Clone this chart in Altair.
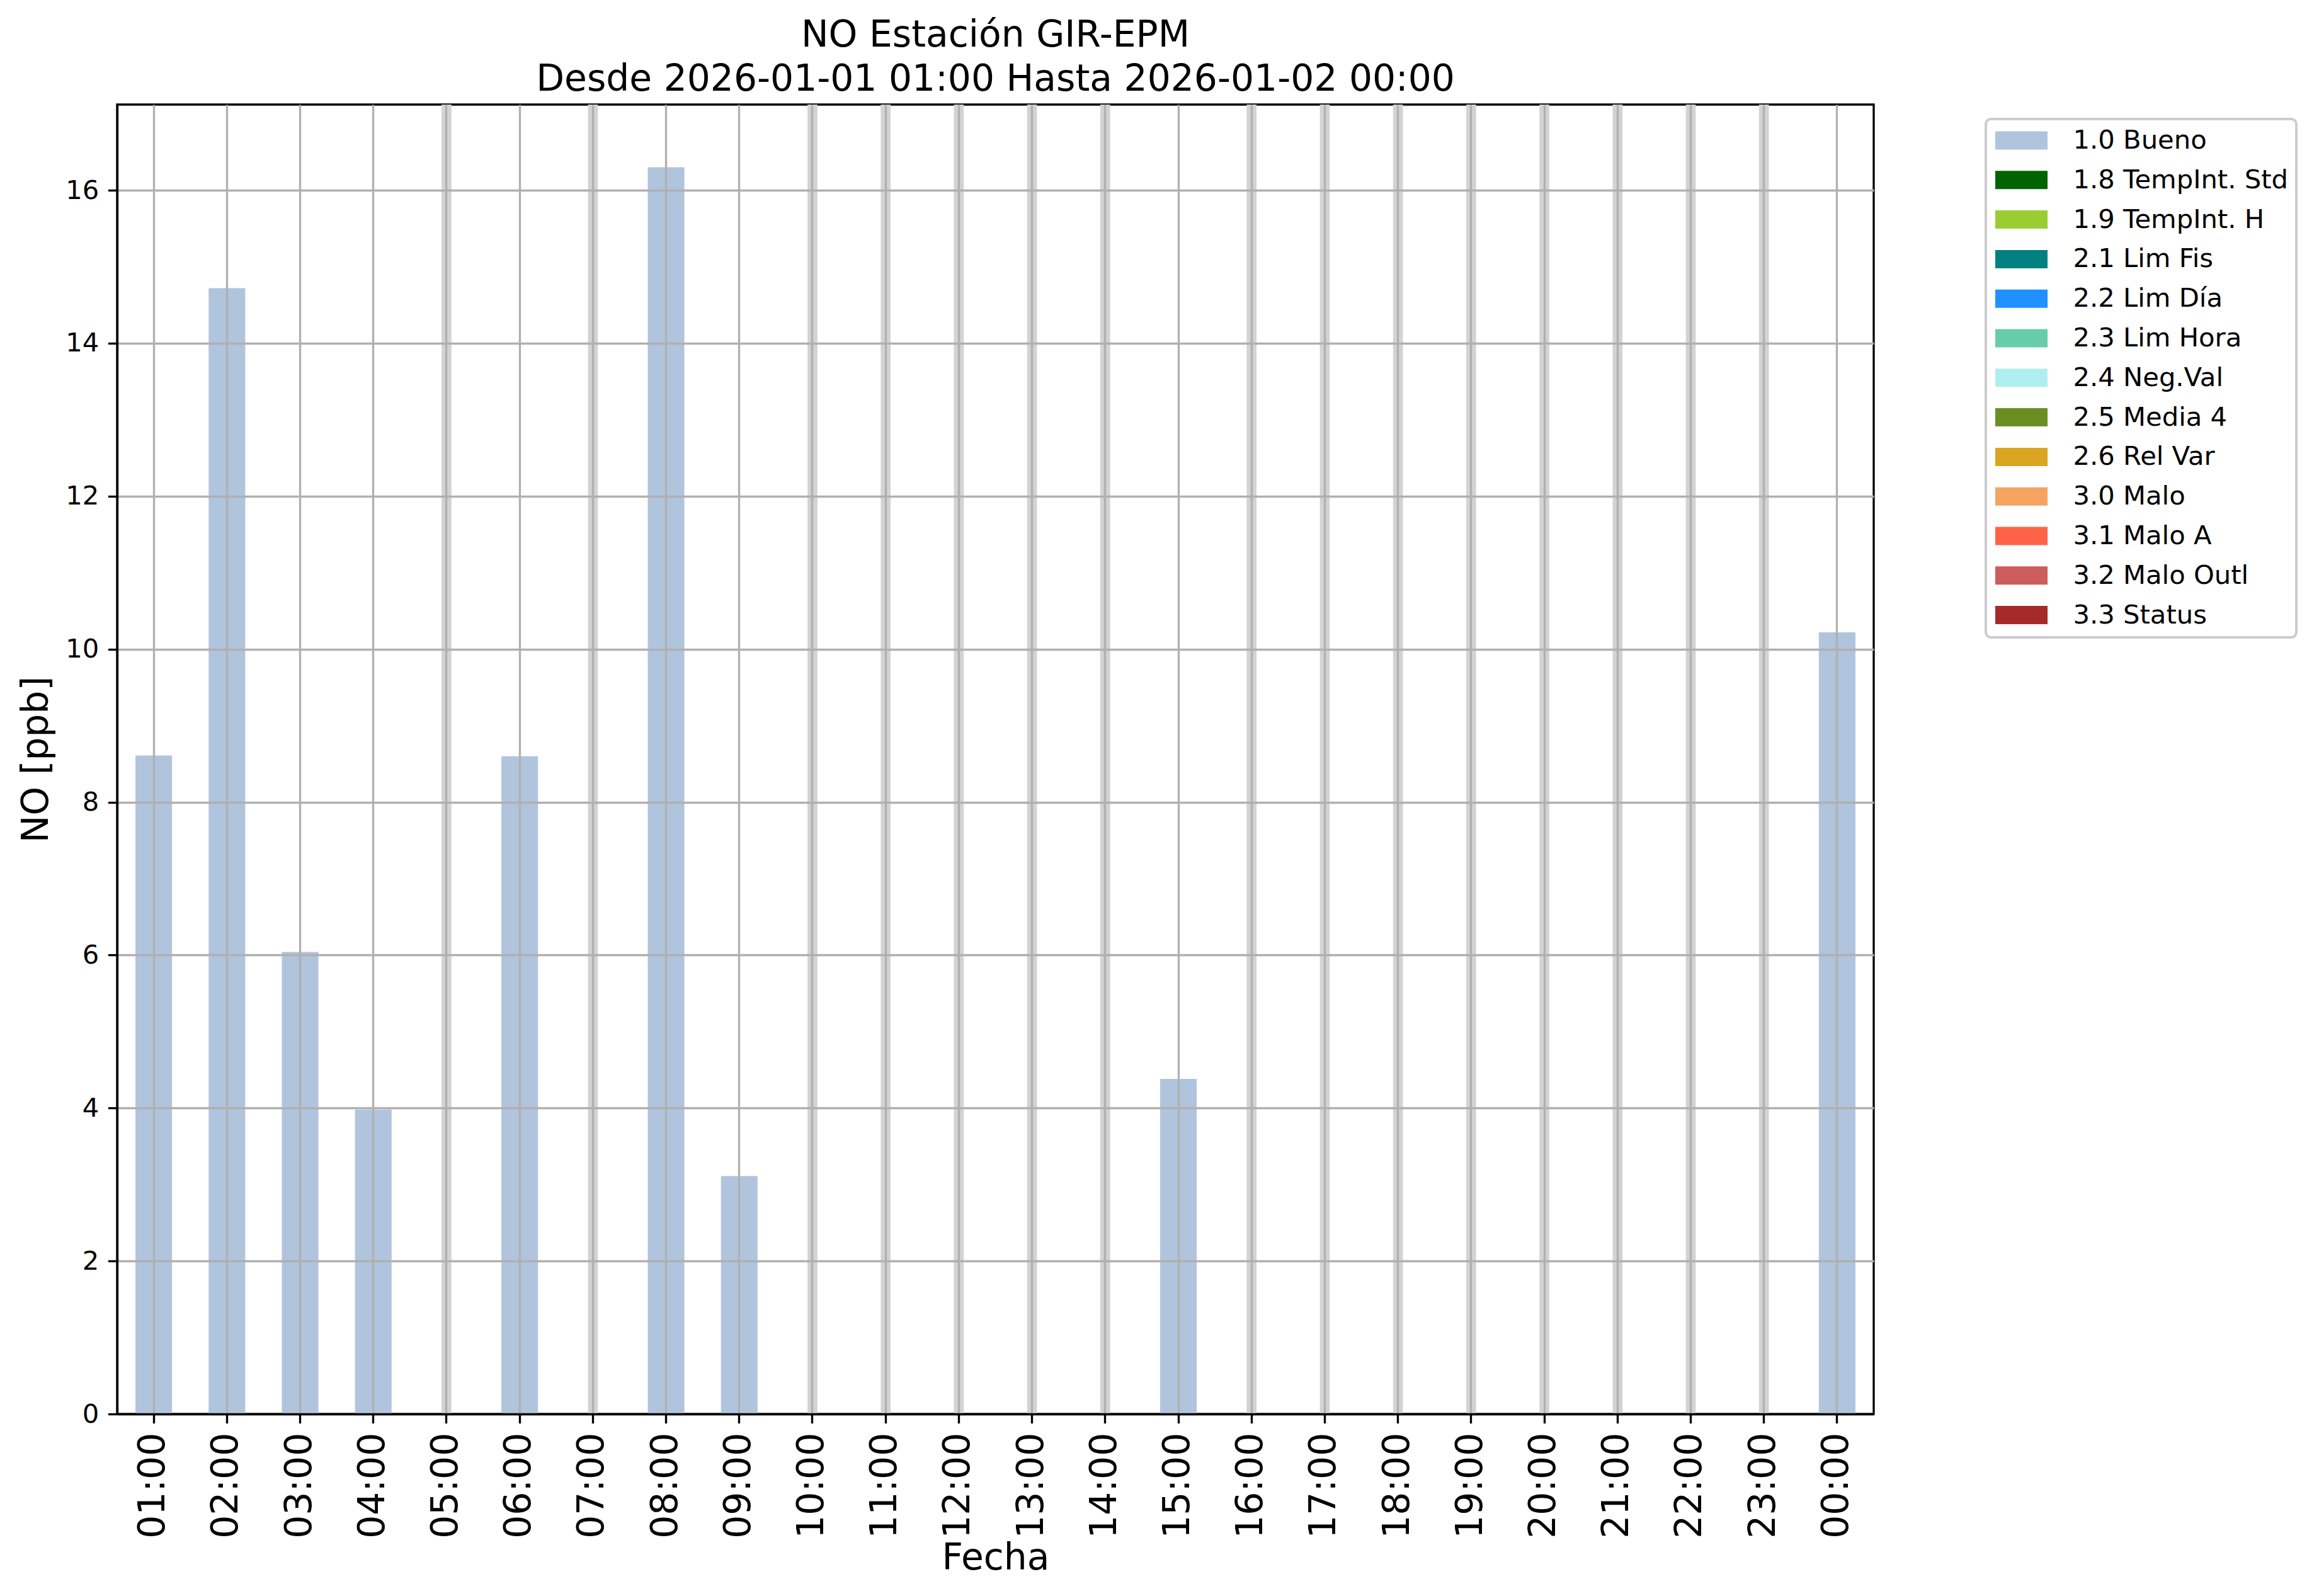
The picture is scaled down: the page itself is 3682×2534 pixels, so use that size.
import altair as alt
import pandas as pd

# ---- data ----
HOURS = ["01:00", "02:00", "03:00", "04:00", "05:00", "06:00", "07:00", "08:00",
         "09:00", "10:00", "11:00", "12:00", "13:00", "14:00", "15:00", "16:00",
         "17:00", "18:00", "19:00", "20:00", "21:00", "22:00", "23:00", "00:00"]
VALUES = [8.61, 14.72, 6.04, 3.98, None, 8.60, None, 16.30,
          3.11, None, None, None, None, None, 4.38, None,
          None, None, None, None, None, None, None, 10.22]
FLAGS = ["1.0 Bueno", "1.0 Bueno", "1.0 Bueno", "1.0 Bueno", None, "1.0 Bueno", None, "1.0 Bueno",
         "1.0 Bueno", None, None, None, None, None, "1.0 Bueno", None,
         None, None, None, None, None, None, None, "1.0 Bueno"]

LEGEND_LABELS = ["1.0 Bueno", "1.8 TempInt. Std", "1.9 TempInt. H", "2.1 Lim Fis",
                 "2.2 Lim Día", "2.3 Lim Hora", "2.4 Neg.Val", "2.5 Media 4",
                 "2.6 Rel Var", "3.0 Malo", "3.1 Malo A", "3.2 Malo Outl", "3.3 Status"]
LEGEND_COLORS = ["#b0c4de", "#006400", "#9acd32", "#008080",
                 "#1e90ff", "#66cdaa", "#afeeee", "#6b8e23",
                 "#daa520", "#f4a460", "#ff6347", "#cd5c5c", "#a52a2a"]

Y_TICKS = [0, 2, 4, 6, 8, 10, 12, 14, 16]
Y_MAX = 17.12
TITLE_LINES = ["NO Estación GIR-EPM", "Desde 2026-01-01 01:00 Hasta 2026-01-02 00:00"]
X_TITLE = "Fecha"
Y_TITLE = "NO [ppb]"

df = pd.DataFrame({"hour": HOURS, "value": VALUES, "flag": FLAGS})

FONT = "DejaVu Sans"
LW = 3.33
GRID = "#b0b0b0"

x_axis = alt.Axis(
    labelAngle=270, labelFontSize=58.3, labelFont=FONT, labelColor="black",
    labelPadding=14.6, tickSize=14.6, tickWidth=LW, tickColor="black",
    domainColor="black", domainWidth=LW, grid=True, gridColor=GRID,
    gridWidth=LW, bandPosition=0.5, title=X_TITLE, titleFontSize=58.3,
    titleFont=FONT, titleFontWeight="normal", titleColor="black",
    titlePadding=3, zindex=1,
)
y_axis = alt.Axis(
    values=Y_TICKS, format="d", labelFontSize=41.7, labelFont=FONT,
    labelColor="black", labelPadding=14.6, tickSize=14.6, tickWidth=LW,
    tickColor="black", domainColor="black", domainWidth=LW, grid=True,
    gridColor=GRID, gridWidth=LW, title=Y_TITLE, titleFontSize=58.3,
    titleFont=FONT, titleFontWeight="normal", titleColor="black",
    titlePadding=16.7, zindex=1,
)
x_scale = alt.Scale(paddingInner=0.5, paddingOuter=0.25)
y_scale = alt.Scale(domain=[0, Y_MAX], nice=False, zero=True)

missing = alt.Chart(df).transform_filter("!isValid(datum.value)").mark_bar(
    color="#d3d3d3", width=alt.RelativeBandSize(0.27)
).encode(
    x=alt.X("hour:N", sort=HOURS, scale=x_scale, axis=x_axis),
    y=alt.YDatum(Y_MAX, scale=y_scale),
    y2=alt.Y2Datum(0),
)

bars = alt.Chart(df).transform_filter("isValid(datum.value)").mark_bar().encode(
    x=alt.X("hour:N", sort=HOURS, scale=x_scale, axis=x_axis),
    y=alt.Y("value:Q", scale=y_scale, axis=y_axis),
    color=alt.Color(
        "flag:N",
        scale=alt.Scale(domain=LEGEND_LABELS, range=LEGEND_COLORS),
        legend=alt.Legend(
            title=None, orient="none", legendX=2967, legendY=23,
            symbolType="M-2,-0.7H2V0.7H-2Z", symbolSize=1722,
            symbolStrokeWidth=0, symbolOffset=22.5, labelOffset=61,
            rowPadding=19.8, labelFontSize=41.7, labelFont=FONT,
            labelColor="black", labelLimit=1000, fillColor="white",
            strokeColor="#cccccc", cornerRadius=8, padding=13,
            symbolOpacity=1,
        ),
    ),
)

chart = alt.layer(missing, bars).properties(
    width=2789,
    height=2079,
    title=alt.Title(
        TITLE_LINES, fontSize=58.3, font=FONT, fontWeight="normal",
        color="black", anchor="middle", frame="group", lineHeight=70,
        offset=10,
    ),
    autosize=alt.AutoSizeParams(type="none"),
    padding={"left": 178, "top": 158, "right": 690, "bottom": 270},
    background="white",
).configure(
    font=FONT
).configure_view(
    stroke="black", strokeWidth=LW, fill="white"
).configure_legend(
    strokeWidth=4
)

chart.save("out.html", embed_options={"renderer": "svg", "actions": False})
